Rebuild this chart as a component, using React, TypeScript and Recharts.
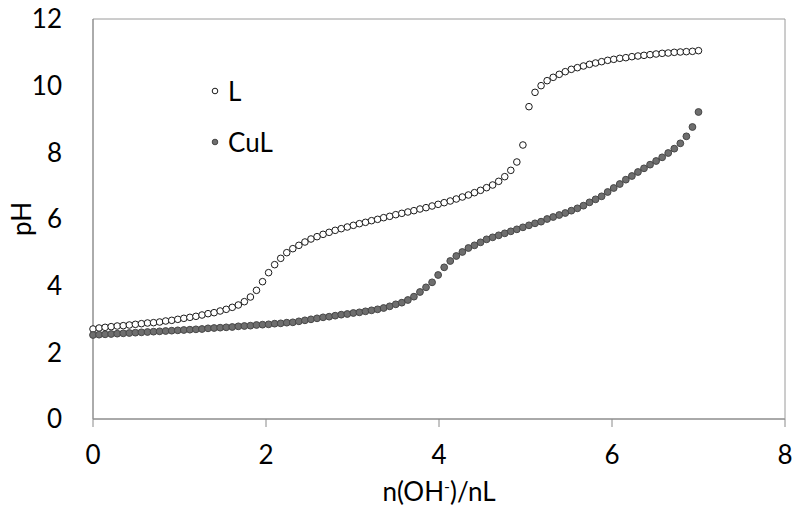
import { ScatterChart, Scatter, XAxis, YAxis, ReferenceArea, Legend } from 'recharts';

const FONT = 'Lato, "Open Sans", sans-serif';

// equivalents of base added, n(OH-)/nL
const xValues = [
  0, 0.07, 0.14, 0.21, 0.28, 0.35, 0.42, 0.49, 0.56, 0.63, 0.7, 0.77, 0.84, 0.91, 0.98, 1.05, 1.12, 1.19, 1.26, 1.33,
  1.4, 1.47, 1.54, 1.61, 1.68, 1.75, 1.82, 1.89, 1.96, 2.03, 2.1, 2.17, 2.24, 2.31, 2.38, 2.45, 2.52, 2.59, 2.66, 2.73,
  2.8, 2.87, 2.94, 3.01, 3.08, 3.15, 3.22, 3.29, 3.36, 3.43, 3.5, 3.57, 3.64, 3.71, 3.78, 3.85, 3.92, 3.99, 4.06, 4.13,
  4.2, 4.27, 4.34, 4.41, 4.48, 4.55, 4.62, 4.69, 4.76, 4.83, 4.9, 4.97, 5.04, 5.11, 5.18, 5.25, 5.32, 5.39, 5.46, 5.53,
  5.6, 5.67, 5.74, 5.81, 5.88, 5.95, 6.02, 6.09, 6.16, 6.23, 6.3, 6.37, 6.44, 6.51, 6.58, 6.65, 6.72, 6.79, 6.86, 6.93,
  7,
];

const lPH = [
  2.7, 2.73, 2.75, 2.77, 2.79, 2.8, 2.82, 2.84, 2.86, 2.88,
  2.89, 2.91, 2.94, 2.96, 2.99, 3.02, 3.05, 3.08, 3.12, 3.16,
  3.19, 3.24, 3.29, 3.35, 3.42, 3.52, 3.66, 3.86, 4.12, 4.39,
  4.63, 4.82, 4.99, 5.11, 5.21, 5.31, 5.4, 5.47, 5.54, 5.6,
  5.66, 5.71, 5.76, 5.81, 5.86, 5.9, 5.95, 5.99, 6.04, 6.08,
  6.13, 6.17, 6.21, 6.25, 6.3, 6.34, 6.39, 6.44, 6.49, 6.54,
  6.6, 6.66, 6.72, 6.79, 6.86, 6.94, 7.02, 7.13, 7.27, 7.46,
  7.71, 8.22, 9.37, 9.8, 10.0, 10.15, 10.25, 10.34, 10.42, 10.49,
  10.54, 10.59, 10.64, 10.68, 10.72, 10.76, 10.79, 10.82, 10.84, 10.87,
  10.89, 10.91, 10.93, 10.95, 10.97, 10.98, 11.0, 11.01, 11.02, 11.03,
  11.05,
];

const cuLPH = [
  2.52, 2.53, 2.54, 2.55, 2.56, 2.57, 2.58, 2.59, 2.6, 2.61,
  2.62, 2.63, 2.64, 2.65, 2.66, 2.67, 2.68, 2.69, 2.7, 2.72,
  2.73, 2.74, 2.75, 2.76, 2.78, 2.79, 2.8, 2.82, 2.83, 2.84,
  2.86, 2.87, 2.89, 2.9, 2.93, 2.96, 2.99, 3.02, 3.05, 3.07,
  3.1, 3.13, 3.15, 3.18, 3.2, 3.23, 3.26, 3.29, 3.33, 3.38,
  3.44, 3.49, 3.57, 3.67, 3.81, 3.95, 4.1, 4.32, 4.55, 4.74,
  4.89, 5.01, 5.13, 5.21, 5.3, 5.39, 5.45, 5.51, 5.57, 5.63,
  5.69, 5.75, 5.81, 5.87, 5.92, 6.0, 6.06, 6.12, 6.18, 6.25,
  6.32, 6.4, 6.5, 6.59, 6.68, 6.81, 6.93, 7.05, 7.18, 7.29,
  7.41, 7.52, 7.63, 7.74, 7.85, 7.98, 8.11, 8.27, 8.48, 8.76,
  9.21,
];

const seriesNames = ['L', 'CuL'];
const xTicks = [0, 2, 4, 6, 8];
const yTicks = [0, 2, 4, 6, 8, 10, 12];

const lData = xValues.map((x, i) => ({ x, ph: lPH[i] }));
const cuLData = xValues.map((x, i) => ({ x, ph: cuLPH[i] }));

const seriesStyle: Record<string, { fill: string; stroke: string }> = {
  L: { fill: '#ffffff', stroke: '#1a1a1a' },
  CuL: { fill: '#6e6e6e', stroke: '#474747' },
};

const dot = (name: string, r: number) => (props: any) => (
  <circle cx={props.cx} cy={props.cy} r={r} fill={seriesStyle[name].fill} stroke={seriesStyle[name].stroke} strokeWidth={1} />
);

function LegendBox({ payload }: any) {
  const items = [...(payload || [])].sort((a: any, b: any) => seriesNames.indexOf(a.value) - seriesNames.indexOf(b.value));
  return (
    <div style={{ fontFamily: FONT, fontSize: 26, color: '#000' }}>
      {items.map((e: any) => (
        <div key={e.value} style={{ display: 'flex', alignItems: 'center', height: 51 }}>
          <svg width={14} height={14}>
            <circle cx={7} cy={7} r={2.8} fill={seriesStyle[e.value].fill} stroke={seriesStyle[e.value].stroke} strokeWidth={1} />
          </svg>
          <span style={{ marginLeft: 6 }}>{e.value}</span>
        </div>
      ))}
    </div>
  );
}

function XTitle({ viewBox }: any) {
  const cx = viewBox.x + viewBox.width / 2;
  return (
    <text x={cx} y={viewBox.y + 82} textAnchor="middle" fontFamily={FONT} fontSize={26} fill="#000">
      n(OH<tspan dy={-9} fontSize={16}>-</tspan>
      <tspan dy={9}>)/nL</tspan>
    </text>
  );
}

function YTitle({ viewBox }: any) {
  const cy = viewBox.y + viewBox.height / 2;
  return (
    <text x={21} y={cy} transform={`rotate(-90 21 ${cy})`} textAnchor="middle" dominantBaseline="central" fontFamily={FONT} fontSize={26} fill="#000">
      pH
    </text>
  );
}

export default function App() {
  const tick = { fontSize: 26, fill: '#000', fontFamily: FONT };
  return (
    <div style={{ position: 'absolute', left: 0, top: 0, background: '#fff' }}>
      <ScatterChart width={800} height={512} margin={{ top: 19, right: 15, left: 0, bottom: 0 }}>
        <ReferenceArea x1={0} x2={8} y1={0} y2={12} fill="none" stroke="#9a9a9a" strokeWidth={1} />
        <XAxis
          type="number"
          dataKey="x"
          domain={[0, 8]}
          ticks={xTicks}
          height={93}
          tick={tick}
          tickSize={8}
          tickMargin={19}
          axisLine={{ stroke: '#9e9e9e', strokeWidth: 1.5 }}
          tickLine={{ stroke: '#8a8a8a' }}
          label={{ content: XTitle }}
        />
        <YAxis
          type="number"
          dataKey="ph"
          domain={[0, 12]}
          ticks={yTicks}
          width={93}
          tick={tick}
          tickSize={0}
          tickMargin={31}
          tickLine={false}
          axisLine={{ stroke: '#8a8a8a' }}
          label={{ content: YTitle }}
        />
        <Legend
          layout="vertical"
          align="center"
          verticalAlign="middle"
          wrapperStyle={{ left: 208, top: 65, width: 'auto' }}
          content={LegendBox}
        />
        <Scatter name="L" data={lData} shape={dot('L', 3.3)} isAnimationActive={false} />
        <Scatter name="CuL" data={cuLData} shape={dot('CuL', 3.4)} isAnimationActive={false} />
      </ScatterChart>
    </div>
  );
}
